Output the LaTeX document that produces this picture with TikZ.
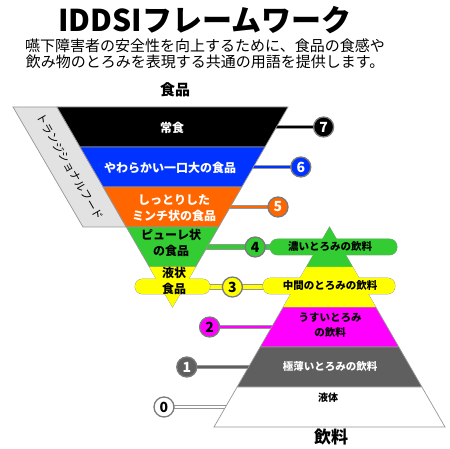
\documentclass[tikz,border=0pt]{standalone}
\usepackage{fontspec}
\setmainfont{Noto Sans CJK JP}
\definecolor{foodblue}{HTML}{0033FF}
\definecolor{foodorange}{HTML}{FF6600}
\definecolor{iddsigreen}{HTML}{33CC33}
\definecolor{iddsiyellow}{HTML}{FFFF00}
\definecolor{iddsimagenta}{HTML}{FF00FF}
\definecolor{iddsigray}{HTML}{5F5F5F}
\definecolor{edgegray}{HTML}{969696}
\definecolor{ringgray}{HTML}{7A7A7A}
\definecolor{transgray}{HTML}{E2E2E2}

\begin{document}
\begin{tikzpicture}[x=1pt, y=-1pt,
  band/.style={draw=edgegray, line width=0.7pt},
  pill/.style={rounded corners=7.5pt},
  link/.style={draw=edgegray, line width=0.9pt, double=#1, double distance=1.5pt},
  wide link/.style={draw=edgegray, line width=1pt, double=#1, double distance=3.4pt},
  lvl/.style={circle, minimum size=20pt, inner sep=0pt, draw=ringgray, line width=1.3pt,
    font=\bfseries\fontsize{14}{14}\selectfont},
  label/.style={align=center, inner sep=0pt, font=\bfseries\fontsize{12}{16}\selectfont},
  small label/.style={align=center, inner sep=0pt, font=\bfseries\fontsize{10.5}{15}\selectfont}]

\useasboundingbox (0,0) rectangle (450,449);

% ── Headings ────────────────────────────────────────────────
\node[font=\bfseries\fontsize{30}{30}\selectfont] (title) at (205,20) {IDDSIフレームワーク};
\node[align=center, font=\fontsize{15}{16}\selectfont] (intro) at (205,54)
  {嚥下障害者の安全性を向上するために、食品の食感や\\飲み物のとろみを表現する共通の用語を提供します。};
\node[font=\bfseries\fontsize{15}{15}\selectfont] (foods) at (175,90) {食品};
\node[font=\bfseries\fontsize{17}{17}\selectfont] (drinks) at (331,437) {飲料};

% ── Connectors (behind everything) ──────────────────────────
\foreach \k in {0,...,7}
  \coordinate (c\k) at ({164+22.8*\k},{407-40*\k});

% ends inside the triangles / pills
\coordinate (f7) at (270,127);
\coordinate (f6) at (245,167);
\coordinate (f5) at (225,207);
\coordinate (f4) at (200,247);
\coordinate (f3) at (205,287);
\coordinate (d4) at (276,247);
\coordinate (d3) at (269,287);
\coordinate (d2) at (278,327);
\coordinate (d1) at (255,367);
\coordinate (d0) at (232,407);

\draw[link=black] (f7) -- (c7);
\draw[link=foodblue] (f6) -- (c6);
\draw[link=foodorange] (f5) -- (c5);
\draw[wide link=iddsigreen] (f4) -- (c4) -- (d4);
\draw[wide link=iddsiyellow] (f3) -- (c3) -- (d3);
\draw[link=iddsimagenta] (c2) -- (d2);
\draw[link=iddsigray] (c1) -- (d1);
\draw[link=white] (c0) -- (d0);

% ── Level markers ───────────────────────────────────────────
\foreach \k/\col/\txt in {0/white/black, 1/iddsigray/white, 2/iddsimagenta/black,
    3/iddsiyellow/black, 4/iddsigreen/black, 5/foodorange/white, 6/foodblue/white, 7/black/white}
  \node[lvl, fill=\col, text=\txt] (n\k) at (c\k) {\k};

% ── Transitional foods band ─────────────────────────────────
\draw[band, fill=transgray] (13,107) -- (57,107) -- (126.3,227) -- (83,227) -- cycle;
\node[rotate=-60, font=\fontsize{11}{11}\selectfont] (trans) at (70,167) {トランジショナルフード};

% ── Food triangle (apex down) ───────────────────────────────
\foreach \ya/\yb/\col in {107/147/black, 147/187/foodblue, 187/227/foodorange,
    227/267/iddsigreen, 267/307/iddsiyellow}
  \draw[band, fill=\col] ({172.5-0.5775*(307-\ya)},\ya) -- ({172.5+0.5775*(307-\ya)},\ya)
    -- ({172.5+0.5775*(307-\yb)},\yb) -- ({172.5-0.5775*(307-\yb)},\yb) -- cycle;

% ── Drink triangle (apex up) ────────────────────────────────
\foreach \ya/\yb/\col in {227/267/iddsigreen, 267/307/iddsiyellow, 307/347/iddsimagenta,
    347/387/iddsigray, 387/427/white}
  \draw[band, fill=\col] ({329.5-0.5775*(\ya-227)},\ya) -- ({329.5+0.5775*(\ya-227)},\ya)
    -- ({329.5+0.5775*(\yb-227)},\yb) -- ({329.5-0.5775*(\yb-227)},\yb) -- cycle;

% ── Pills for levels 3 and 4 ────────────────────────────────
\draw[band, pill, fill=iddsiyellow] (135,279) rectangle (210,294);
\draw[band, pill, fill=iddsiyellow] (263,278) rectangle (395,294);
\draw[band, pill, fill=iddsigreen] (270,239) rectangle (397,255);

% merge pills and triangles: fills again, no outline
\fill[iddsiyellow] (149.4,267) -- (195.6,267) -- (172.5,307) -- cycle;
\fill[iddsigreen] (329.5,227) -- (352.6,267) -- (306.4,267) -- cycle;
\fill[iddsiyellow] (306.4,267) -- (352.6,267) -- (375.7,307) -- (283.3,307) -- cycle;
\fill[iddsiyellow, pill] (135,279) rectangle (210,294);
\fill[iddsiyellow, pill] (263,278) rectangle (395,294);
\fill[iddsigreen, pill] (270,239) rectangle (397,255);

% ── Food labels ─────────────────────────────────────────────
\node[label, text=white] (l7) at (172,128) {常食};
\node[label, text=white] (l6) at (170,168) {やわらかい一口大の食品};
\node[label, text=white] (l5) at (174,208) {しっとりした\\ミンチ状の食品};
\node[label] (l4) at (171,243) {ピューレ状\\の食品};
\node[label] (l3) at (174,281) {液状\\食品};

% ── Drink labels ────────────────────────────────────────────
\node[small label] (k4) at (330,247) {濃いとろみの飲料};
\node[small label] (k3) at (330,286) {中間のとろみの飲料};
\node[small label] (k2) at (330,325) {うすいとろみ\\の飲料};
\node[small label, text=white] (k1) at (330,367) {極薄いとろみの飲料};
\node[small label, font=\bfseries\fontsize{10}{12}\selectfont] (k0) at (328,398) {液体};

\end{tikzpicture}
\end{document}
